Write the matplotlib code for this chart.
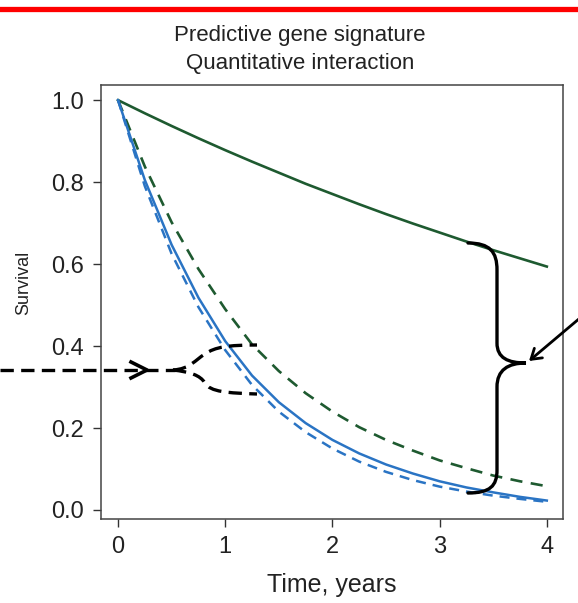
import numpy as np
import matplotlib.pyplot as plt
from matplotlib.path import Path
from matplotlib.patches import PathPatch
from matplotlib.lines import Line2D
from matplotlib.transforms import Affine2D

plt.rcParams['font.family'] = ['Liberation Sans', 'DejaVu Sans']

# Survival curves
time_years = [0, 0.25, 0.5, 0.75, 1.0, 1.25, 1.5, 1.75, 2.0, 2.25, 2.5, 2.75, 3.0, 3.25, 3.5, 3.75, 4.0]
green_solid = [1.0, 0.968, 0.937, 0.907, 0.878, 0.850, 0.823, 0.796, 0.771, 0.746, 0.722, 0.699, 0.677, 0.655, 0.634, 0.614, 0.594]
green_dashed = [1.0, 0.838, 0.702, 0.588, 0.490, 0.404, 0.339, 0.285, 0.240, 0.202, 0.171, 0.145, 0.121, 0.102, 0.084, 0.070, 0.058]
blue_solid = [1.0, 0.805, 0.647, 0.518, 0.412, 0.328, 0.263, 0.212, 0.171, 0.138, 0.111, 0.089, 0.070, 0.055, 0.043, 0.032, 0.023]
blue_dashed = [1.0, 0.790, 0.625, 0.495, 0.390, 0.305, 0.240, 0.190, 0.150, 0.118, 0.093, 0.073, 0.057, 0.045, 0.035, 0.027, 0.020]

x_ticks = [0, 1, 2, 3, 4]
y_ticks = [0.0, 0.2, 0.4, 0.6, 0.8, 1.0]

GREEN = '#1e5a30'
BLUE = '#2a74c4'
W, H = 578, 603

fig = plt.figure(figsize=(W / 100, H / 100), dpi=100)
ax = fig.add_axes([101 / W, 1 - 519 / H, 462 / W, 434 / H])

ax.plot(time_years, green_solid, color=GREEN, lw=1.9)
ax.plot(time_years, green_dashed, color=GREEN, lw=1.9, dashes=(4.6, 3.2))
ax.plot(time_years, blue_solid, color=BLUE, lw=1.8)
ax.plot(time_years, blue_dashed, color=BLUE, lw=1.8, dashes=(4, 2.8))

ax.set_xlim(-0.159, 4.151)
ax.set_ylim(-0.022, 1.037)
ax.set_xticks(x_ticks)
ax.set_yticks(y_ticks)
ax.set_yticklabels([f'{v:.1f}' for v in y_ticks])
ax.tick_params(length=6, width=1, color='#333333', labelsize=17, labelcolor='#222222', pad=6)
for sp in ax.spines.values():
    sp.set_color('#444444')
    sp.set_linewidth(1.1)

# text
fig.text(300 / W, 1 - 36 / H, 'Predictive gene signature', ha='center', va='center', fontsize=16, color='#222222')
fig.text(300 / W, 1 - 64 / H, 'Quantitative interaction', ha='center', va='center', fontsize=16, color='#222222')
fig.text(332 / W, 1 - 585 / H, 'Time, years', ha='center', va='center', fontsize=18, color='#222222')
fig.text(24 / W, 1 - 283 / H, 'Survival', ha='center', va='center', rotation=90, fontsize=13, color='#222222')

# pixel transform, origin top-left
pix = Affine2D().scale(1 / W, -1 / H).translate(0, 1) + fig.transFigure

# red line at the top
fig.add_artist(Line2D([0, W], [8.5, 8.5], transform=pix, color='red', lw=3.8))

# right curly brace
M, C, L = Path.MOVETO, Path.CURVE4, Path.LINETO
brace = Path(
    [(468, 243), (490, 243), (497, 252), (497, 270),
     (497, 343),
     (497, 358), (508, 363), (526, 363),
     (508, 363), (497, 370), (497, 387),
     (497, 470),
     (497, 486), (490, 493), (468, 493)],
    [M, C, C, C, L, C, C, C, C, C, C, L, C, C, C])
fig.add_artist(PathPatch(brace, transform=pix, fill=False, lw=2.4, color='black', capstyle='round'))

ax.annotate('', xy=(529, 361), xycoords=pix, xytext=(580, 318), textcoords=pix,
            arrowprops=dict(arrowstyle='->,head_length=0.7,head_width=0.45', lw=2.0, color='black',
                            shrinkA=0, shrinkB=0))

# left dashed arrow splitting in two
fig.add_artist(Line2D([0, 175], [370, 370], transform=pix, color='black', lw=2.4, dashes=(4, 2.2)))
fig.add_artist(Line2D([131, 147, 131], [362, 370, 378], transform=pix, color='black', lw=2.6))
upper = Path([(173, 370), (190, 369), (195, 360), (205, 354), (215, 347), (228, 345), (257, 345)],
             [M, C, C, C, C, C, C])
lower = Path([(173, 370), (190, 372), (200, 375), (205, 383), (210, 392), (228, 393), (257, 394)],
             [M, C, C, C, C, C, C])
for p in (upper, lower):
    fig.add_artist(PathPatch(p, transform=pix, fill=False, lw=2.4, color='black', linestyle=(0, (4, 2.2))))

fig.savefig('out.png', dpi=100)
